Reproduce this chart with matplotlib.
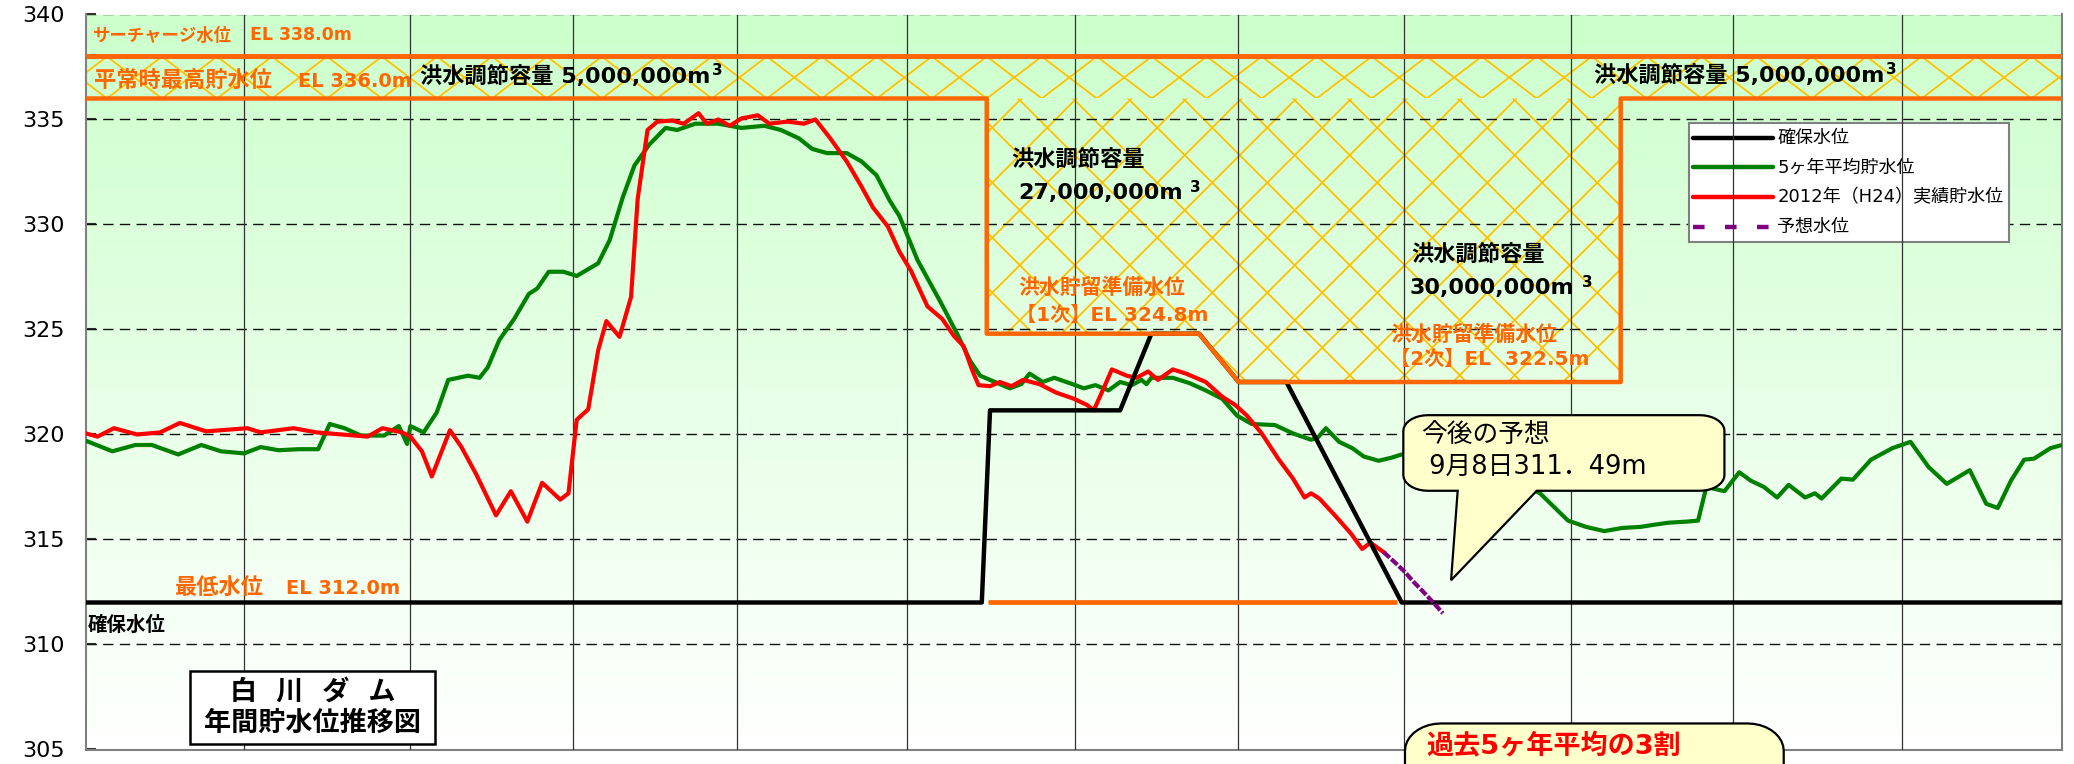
# 白川ダム 年間貯水位推移図 (2012)

import numpy as np
import matplotlib.pyplot as plt
from matplotlib import font_manager
from matplotlib.patches import Polygon, Rectangle
from matplotlib.collections import LineCollection

plt.rcParams['font.family'] = ['DejaVu Sans', 'Noto Sans CJK JP']

# x = months from 1 Jan (0..12), y = EL (m)
green_x = [0, 0.16, 0.30, 0.40, 0.56, 0.70, 0.82, 0.96, 1.06, 1.17, 1.29, 1.41, 1.48, 1.57, 1.67,
           1.81, 1.90, 1.95, 1.97, 2.05, 2.13, 2.20, 2.32, 2.39, 2.44, 2.51, 2.60, 2.69, 2.74, 2.81,
           2.90, 2.98, 3.11, 3.18, 3.26, 3.33, 3.42, 3.52, 3.59, 3.70, 3.84, 3.98, 4.12, 4.22, 4.33,
           4.41, 4.50, 4.62, 4.71, 4.80, 4.88, 4.94, 5.05, 5.19, 5.29, 5.37, 5.43, 5.49, 5.61, 5.68,
           5.73, 5.81, 5.88, 5.99, 6.06, 6.13, 6.21, 6.28, 6.35, 6.41, 6.44, 6.47, 6.60, 6.70, 6.80,
           6.90, 6.99, 7.08, 7.22, 7.33, 7.44, 7.48, 7.53, 7.61, 7.69, 7.76, 7.85, 7.93, 7.99, 8.2,
           8.5, 8.7, 8.83, 9.0, 9.11, 9.22, 9.33, 9.44, 9.52, 9.61, 9.72, 9.79, 9.84, 9.95, 10.04,
           10.11, 10.19, 10.27, 10.34, 10.44, 10.50, 10.54, 10.66, 10.73, 10.84, 10.97, 11.08, 11.19,
           11.30, 11.44, 11.54, 11.61, 11.69, 11.77, 11.83, 11.93, 12.0]
green_y = [319.7, 319.2, 319.5, 319.5, 319.05, 319.5, 319.2, 319.1, 319.4, 319.25, 319.3, 319.3, 320.5,
           320.3, 319.95, 319.95, 320.4, 319.55, 320.4, 320.1, 321.05, 322.6, 322.8, 322.7, 323.2,
           324.5, 325.5, 326.7, 326.95, 327.75, 327.75, 327.55, 328.15, 329.25, 331.3, 332.8, 333.8,
           334.6, 334.5, 334.8, 334.8, 334.6, 334.7, 334.5, 334.1, 333.6, 333.4, 333.4, 333.0, 332.35,
           331.15, 330.4, 328.3, 326.3, 324.8, 323.5, 322.8, 322.6, 322.2, 322.4, 322.9, 322.5, 322.7,
           322.4, 322.2, 322.35, 322.1, 322.5, 322.35, 322.6, 322.4, 322.7, 322.7, 322.45, 322.1,
           321.7, 320.9, 320.5, 320.45, 320.05, 319.75, 319.85, 320.3, 319.65, 319.35, 318.95, 318.75,
           318.9, 319.05, 318.8, 318.2, 317.7, 317.2, 315.9, 315.6, 315.4, 315.55, 315.6, 315.7, 315.8,
           315.85, 315.9, 317.5, 317.3, 318.2, 317.8, 317.5, 317.0, 317.6, 317.0, 317.2, 316.95, 317.9,
           317.85, 318.8, 319.35, 319.65, 318.45, 317.65, 318.3, 316.7, 316.5, 317.8, 318.8, 318.85,
           319.35, 319.5]

red_x = [0, 0.07, 0.17, 0.31, 0.45, 0.57, 0.73, 0.98, 1.06, 1.26, 1.40, 1.71, 1.80, 1.92, 1.97, 2.04,
         2.10, 2.21, 2.28, 2.37, 2.49, 2.58, 2.68, 2.77, 2.88, 2.93, 2.98, 3.05, 3.11, 3.16, 3.24,
         3.31, 3.35, 3.41, 3.47, 3.56, 3.63, 3.72, 3.77, 3.84, 3.91, 3.98, 4.08, 4.15, 4.26, 4.36,
         4.43, 4.52, 4.62, 4.71, 4.78, 4.87, 4.94, 5.01, 5.11, 5.20, 5.27, 5.33, 5.38, 5.42, 5.49,
         5.55, 5.62, 5.69, 5.79, 5.89, 6.0, 6.08, 6.12, 6.18, 6.23, 6.32, 6.38, 6.45, 6.51, 6.60,
         6.68, 6.80, 6.90, 6.98, 7.05, 7.14, 7.24, 7.33, 7.40, 7.44, 7.49, 7.59, 7.68, 7.75, 7.80, 7.88]
red_y = [320.05, 319.9, 320.3, 320.0, 320.1, 320.55, 320.15, 320.3, 320.1, 320.3, 320.1, 319.9, 320.3,
         320.1, 319.9, 319.2, 318.0, 320.2, 319.4, 318.1, 316.15, 317.3, 315.85, 317.7, 316.9, 317.2,
         320.7, 321.2, 324.0, 325.4, 324.65, 326.55, 331.2, 334.5, 334.9, 334.95, 334.8, 335.3, 334.8,
         335.0, 334.7, 335.05, 335.2, 334.8, 334.9, 334.8, 335.0, 334.1, 333.0, 331.8, 330.8, 329.9,
         328.7, 327.8, 326.1, 325.5, 324.7, 324.2, 323.1, 322.35, 322.3, 322.5, 322.3, 322.6, 322.4,
         322.0, 321.7, 321.4, 321.15, 322.2, 323.1, 322.8, 322.7, 323.0, 322.6, 323.1, 322.9, 322.5,
         321.8, 321.4, 320.9, 320.05, 318.85, 317.9, 317.0, 317.2, 316.95, 316.1, 315.3, 314.55,
         314.85, 314.4]

yosou_x = [7.88, 7.95, 8.01, 8.06, 8.11, 8.17, 8.24]
yosou_y = [314.4, 313.9, 313.45, 313.0, 312.6, 312.1, 311.49]

kakuho_x = [0, 5.44, 5.49, 6.28, 6.47, 6.76, 7.0, 7.29, 7.99, 12]
kakuho_y = [312, 312, 321.15, 321.15, 324.8, 324.8, 322.5, 322.5, 312, 312]

flood_x = [0, 5.47, 5.47, 6.76, 7.0, 9.32, 9.32, 12]
flood_y = [336, 336, 324.8, 324.8, 322.5, 322.5, 336, 336]

surcharge = 338.0
normal_high = 336.0
min_level = 312.0
min_level_x = [5.48, 7.96]

y_ticks = [305, 310, 315, 320, 325, 330, 335, 340]
month_lines = [0.959, 1.967, 2.96, 3.956, 4.983, 6.007, 6.995, 8.005, 9.017, 10.003, 11.03]

ORANGE = '#ff6600'
HATCH = '#ffc000'
YELLOW = '#ffffcc'

fig = plt.figure(figsize=(20.74, 7.64), dpi=100)
ax = fig.add_axes([86 / 2074, 14.5 / 764, 1976 / 2074, 735 / 764])
ax.set_xlim(0, 12)
ax.set_ylim(305, 340)

# background gradient green -> white
t = np.linspace(0, 1, 256)[:, None]
top = np.array([204, 255, 204]) / 255
grad = top[None, None, :] * (1 - t[:, :, None]) + t[:, :, None]
ax.imshow(grad, extent=[0, 12, 305, 340], aspect='auto', origin='upper', zorder=0)

# narrow font for the axis numbers if it is there
installed = {f.name for f in font_manager.fontManager.ttflist}
if 'Liberation Sans Narrow' in installed:
    tick_font, tick_size = 'Liberation Sans Narrow', 20
else:
    tick_font, tick_size = 'DejaVu Sans', 16

ax.set_xticks([])
ax.set_yticks(y_ticks)
ax.tick_params(axis='y', direction='in', length=7, width=1.5, color='#333333', pad=15)
for lab in ax.get_yticklabels():
    lab.set_fontfamily(tick_font)
    lab.set_fontsize(tick_size)
ax.spines['top'].set_visible(False)
for s in ['left', 'bottom', 'right']:
    ax.spines[s].set_color('#808080')
    ax.spines[s].set_linewidth(1.5)

for y in y_ticks[1:]:
    ax.axhline(y, color='#111111', lw=1, ls=(0, (7.5, 4.5)), zorder=2)
for x in month_lines:
    ax.axvline(x, color='#333333', lw=0.9, zorder=3.5)

# diamond hatch: flat lattice in the 336-338 band, square lattice in the flood space
px_m, px_v = 164.7, 21.0   # pixels per month / per metre
band = Polygon([(0, surcharge), (12, surcharge), (12, normal_high), (0, normal_high)],
               closed=True, facecolor='none', edgecolor='none')
zone = Polygon([(5.47, normal_high), (9.32, normal_high), (9.32, 322.5), (7.0, 322.5),
                (6.76, 324.8), (5.47, 324.8)], closed=True, facecolor='none', edgecolor='none')
ax.add_patch(band)
ax.add_patch(zone)

step = 55 / px_m
k_band = 2 / step
band_segs = []
for n in range(-3, 40):
    m0 = 0.1275 + n * step
    band_segs.append([(m0, 338), (m0 + 2 / k_band, 336)])
    band_segs.append([(m0, 338), (m0 - 2 / k_band, 336)])

k_zone = px_m / px_v
zone_segs = []
for n in range(-10, 50):
    a = (54.3 + 55 * n - 86) / px_m
    b = (5.7 + 55 * n - 86) / px_m
    zone_segs.append([(a, 340), (a + 20 / k_zone, 320)])
    zone_segs.append([(b, 340), (b - 20 / k_zone, 320)])

for segs, clip in [(band_segs, band), (zone_segs, zone)]:
    lc = LineCollection(segs, colors=HATCH, linewidths=1.3, zorder=1)
    ax.add_collection(lc, autolim=False)
    lc.set_clip_path(clip)

# orange levels
ax.plot([0, 12], [surcharge, surcharge], color=ORANGE, lw=3.6, zorder=7.5, solid_capstyle='butt')
ax.plot(flood_x, flood_y, color=ORANGE, lw=3.2, zorder=7.5, solid_capstyle='butt')
ax.plot(min_level_x, [min_level, min_level], color=ORANGE, lw=3.4, zorder=7.5, solid_capstyle='butt')

# water levels
ax.plot(green_x, green_y, color='#008000', lw=3.0, zorder=5)
ax.plot(red_x, red_y, color='#ff0000', lw=3.0, zorder=6)
ax.plot(kakuho_x, kakuho_y, color='black', lw=3.2, zorder=7)
ax.plot(yosou_x, yosou_y, color='#800080', lw=3.0, ls=(0, (2.0, 0.5)), zorder=8)


def label(x, y, s, size, color='black', weight='bold', ha='left'):
    return ax.text(x, y, s, fontsize=size, color=color, fontweight=weight,
                   ha=ha, va='center', zorder=9)


def cube(txt, size=11, dx=1):
    ax.annotate('3', xy=(1, 1), xycoords=txt, xytext=(dx, 2), textcoords='offset points',
                fontsize=size, fontweight='bold', ha='left', va='top', zorder=9)


label(0.045, 339.0, 'サーチャージ水位', 12.5, ORANGE)
label(0.995, 339.0, 'EL 338.0m', 12.5, ORANGE)
label(0.05, 336.8, '平常時最高貯水位', 16, ORANGE)
label(1.29, 336.8, 'EL 336.0m', 14, ORANGE)
cube(label(2.03, 337.05, '洪水調節容量 5,000,000m', 16))
cube(label(9.16, 337.1, '洪水調節容量 5,000,000m', 16))
label(5.62, 333.05, '洪水調節容量', 16)
cube(label(5.66, 331.5, '27,000,000m', 16), dx=5)
label(5.66, 326.97, '洪水貯留準備水位', 15, ORANGE)
label(5.65, 325.68, '【1次】EL 324.8m', 14.5, ORANGE)
label(8.045, 328.55, '洪水調節容量', 16)
cube(label(8.04, 326.97, '30,000,000m', 16), dx=5)
label(7.92, 324.73, '洪水貯留準備水位', 15, ORANGE)
label(7.92, 323.56, '【2次】EL  322.5m', 14.5, ORANGE)
label(0.534, 312.68, '最低水位', 16, ORANGE)
label(1.213, 312.68, 'EL 312.0m', 14, ORANGE)
label(0.01, 310.92, '確保水位', 14)

# title box
ax.add_patch(Rectangle((0.63, 305.26), 1.49, 3.47, facecolor='white', edgecolor='black',
                       lw=1.8, zorder=9))
ax.text(1.375, 307.73, '白  川  ダ  ム', fontsize=19.5, fontweight='bold', ha='center',
        va='center', zorder=9.5)
ax.text(1.375, 306.2, '年間貯水位推移図', fontsize=19.5, fontweight='bold', ha='center',
        va='center', zorder=9.5)

# legend (drawn under the month lines, as in the original)
ax.add_patch(Rectangle((9.733, 329.17), 1.943, 5.67, facecolor='white', edgecolor='#808080',
                       lw=1.5, zorder=2.6))
leg_rows = [334.11, 332.73, 331.30, 329.87]
leg_items = [('確保水位', 'black', '-'), ('5ヶ年平均貯水位', '#008000', '-'),
             ('2012年（H24）実績貯水位', '#ff0000', '-'), ('予想水位', '#800080', '--')]
for yy, (name, col, ls) in zip(leg_rows, leg_items):
    if ls == '-':
        ax.plot([9.757, 10.243], [yy, yy], color=col, lw=3.2, solid_capstyle='round', zorder=2.7)
    else:
        ax.plot([9.757, 10.243], [yy, yy], color=col, lw=3.2, dashes=(2.6, 4.6), zorder=2.7)
    ax.text(10.27, yy, name, fontsize=13, va='center', ha='left', zorder=2.8)


def rounded(x0, x1, y0, y1, rx, ry, tail=None):
    a = np.linspace(0, np.pi / 2, 10)
    pts = []
    pts += [(x0 + rx - rx * np.cos(v), y1 - ry + ry * np.sin(v)) for v in a]
    pts += [(x1 - rx + rx * np.sin(v), y1 - ry + ry * np.cos(v)) for v in a]
    pts += [(x1 - rx + rx * np.cos(v), y0 + ry - ry * np.sin(v)) for v in a]
    if tail:
        pts += tail
    pts += [(x0 + rx - rx * np.sin(v), y0 + ry - ry * np.cos(v)) for v in a]
    return pts


ax.add_patch(Polygon(rounded(8.0, 9.95, 317.32, 320.92, 0.15, 0.75,
                             tail=[(8.81, 317.32), (8.29, 313.06), (8.33, 317.32)]),
                     closed=True, facecolor=YELLOW, edgecolor='black', lw=1.6, zorder=10))
ax.text(8.106, 319.97, '今後の予想', fontsize=18.5, va='center', ha='left', zorder=11)
ax.text(8.106, 318.44, ' 9月8日311．49m', fontsize=18.5, va='center', ha='left', zorder=11)

ax.add_patch(Polygon(rounded(8.01, 10.31, 301.5, 306.24, 0.22, 1.3), closed=True,
                     facecolor=YELLOW, edgecolor='black', lw=1.6, zorder=10, clip_on=False))
ax.text(8.14, 305.1, '過去5ヶ年平均の3割', fontsize=19.5, fontweight='bold', color='#ff0000',
        va='center', ha='left', zorder=11, clip_on=False)

fig.savefig('out.png', dpi=100)
